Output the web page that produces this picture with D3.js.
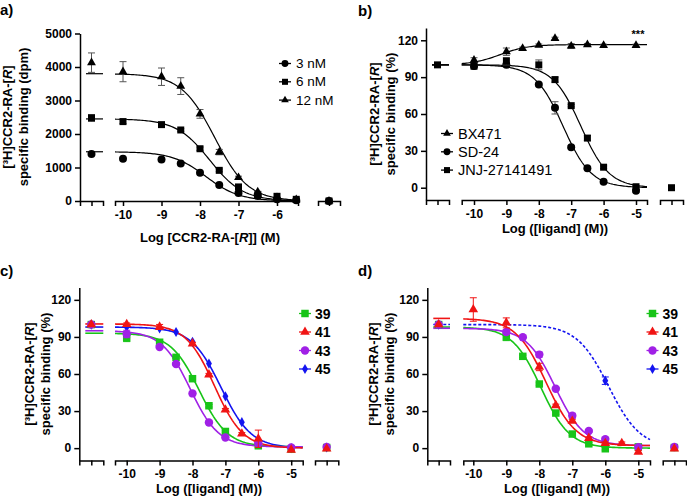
<!DOCTYPE html>
<html>
<head>
<meta charset="utf-8">
<script src="https://cdn.jsdelivr.net/npm/d3@7"></script>
<style>
  body { margin: 0; background: #fff; }
  svg { font-family: "Liberation Sans", Arial, sans-serif; }
  .axis path, .axis line { stroke: #000; stroke-width: 1.5; }
  .axis text { font-size: 12px; font-weight: bold; fill: #000; font-family: "Liberation Sans", Arial, sans-serif; }
</style>
</head>
<body>
<svg width="687" height="497"></svg>
<script>
// **** data ****
// fit params: [top, bottom, logIC50, hill]

// a) saturation, dpm
var logA = [-10, -9, -8.5, -8, -7.5, -7, -6.5, -6, -5.5];
var a3nM = [1260, 1240, 1120, 845, 480, 240, 150, 50, 20];
var a6nM = [2370, 2280, 2120, 1560, 915, 420, 190, 140, 50];
var a12nM = [3860, 3710, 3430, 2600, 1460, 700, 270, 100, 40];
var a6nMErr = [60, 50, 40, 50, 40, 20, 0, 0, 0];
var a12nMErr = [300, 260, 250, 130, 80, 40, 20, 0, 0];
var aCtrl = [1400, 2480, 4130];
var aCtrlErr = [0, 100, 290];
var aFit = [[1470, 0, -7.85, -1], [2450, 0, -7.75, -1], [3800, 0, -7.62, -1]];
var aNames = ['3 nM', '6 nM', '12 nM'];
var aTicksY = [0, 1000, 2000, 3000, 4000, 5000];
var aTicksX = [-10, -9, -8, -7, -6];

// b) reference ligands, %
var logB = [-10, -9, -8.5, -8, -7.5, -7, -6.5, -6, -5];
var bBX471 = [103.8, 110.7, 113.4, 116, 121.5, 115.3, 116.4, 115.8, 115.8];
var bSD24 = [99, 100, null, 84, 65, 33, 15.9, 4.9, -2.5];
var bJNJ = [98.9, 103, null, 100, 88, 66.8, 40.4, 16.7, 0.8];
var bBXErr = [2, 3, 1, 1, 1, 2, 1, 1, 1];
var bSDErr = [1, 1, 0, 1, 5, 1, 1, 1, 1];
var bJNJErr = [1, 3, 0, 4, 2, 1, 2, 1, 1];
var bFit = [[116.5, 100, -9.2, 1], [100, 0, -7.25, -1], [100, 0, -6.7, -1]];
var bNames = ['BX471', 'SD-24', 'JNJ-27141491'];

// c) and d) compounds 39, 41, 43, 45, %
var logCD = [-10, -9, -8.5, -8, -7.5, -7, -6.5, -6, -5.5, -5];
var c39 = [89.2, 85.7, 73.5, 56.2, 34.3, 13.5, null, 1.9, null, -0.8];
var c41 = [100.3, 98.1, null, 84.6, 59.5, 31.1, 11.6, 7.6, null, -1.4];
var c43 = [92.4, 81.9, 68.1, 44.3, 20.8, 8.6, null, 3.8, null, 0.5];
var c45 = [98, 97, 94, 86, 68.4, 41.9, 21, 4, null, 0];
var c41Err = [1, 2, 0, 1, 1, 1, 1, 7, 0, 0];
var c39Err = [3, 1, 1, 1, 1, 1, 0, 1, 0, 0];
var c43Err = [3, 1, 1, 1, 1, 1, 0, 1, 0, 0];
var cFit = [[93, 1, -7.8, -1], [100.5, 0, -7.33, -1], [95, 1, -8.07, -1], [98, 0, -7.13, -0.95]];

var d39 = [null, 90, 74.3, 51.9, 28.4, 11.4, 3.5, -0.5, null, 1];
var d41 = [112.2, 101.4, null, 65.7, 34.6, 22, 8.1, 4, 4, -3];
var d43 = [null, 94, 89.7, 75.7, 48.1, 26.2, 13.8, 7.3, null, 0.8];
var d45 = [null, null, null, null, null, null, null, 54.6, null, null];
var d41Err = [9.5, 4, 0, 3, 1, 1, 1, 1, 1, 1];
var d39Err = [0, 3, 1, 1, 1, 1, 1, 1, 0, 0];
var d43Err = [0, 2, 1, 2, 1, 2, 1, 1, 0, 0];
var d45Err = [0, 0, 0, 0, 0, 0, 0, 3, 0, 0];
var dFit = [[98, 0, -7.95, -1], [105, 2, -7.8, -0.95], [97, 2, -7.52, -1], [100, 0, -5.9, -0.9]];

var cdNames = ['39', '41', '43', '45'];
var cdCtrl = [100, 100, 100, 100];
var cdNsb = [0.5, -0.5, 1, 0.5];
var pctTicksY = [0, 30, 60, 90, 120];
var pctTicksX = [-10, -9, -8, -7, -6, -5];

var svg = d3.select('svg');

function fitY(p, x) {
    return p[1] + (p[0] - p[1]) / (1 + Math.pow(10, (p[2] - x) * p[3]));
}

var sym = {
    circle: d3.symbolCircle, square: d3.symbolSquare,
    triangle: d3.symbolTriangle, diamond: d3.symbolDiamond
};

function drawPanel(o) {
    var g = svg.append('g');
    var y = d3.scaleLinear().domain(o.yDomain).range(o.yRange);
    var x = d3.scaleLinear().domain([-10, -5]).range([o.x10, o.x10 + 5 * o.decade]);
    var axisY = y(o.yDomain[0]);

    // y axis
    g.append('g').attr('class', 'axis')
        .attr('transform', 'translate(' + o.seg1[0] + ',0)')
        .call(d3.axisLeft(y).tickValues(o.yTicks).tickSize(5).tickSizeOuter(0).tickPadding(3)
            .tickFormat(d => String(d)));

    // broken x axis: control | concentrations | nsb
    var s1 = d3.scalePoint().domain(['c']).range(o.seg1).padding(0.5);
    var s3 = d3.scalePoint().domain(['n']).range(o.seg3).padding(0.5);
    var s2 = d3.scaleLinear().domain([x.invert(o.seg2[0]), x.invert(o.seg2[1])]).range(o.seg2);
    [[s1, null], [s2, o.xTicks], [s3, null]].forEach(function(s) {
        var ax = d3.axisBottom(s[0]).tickSize(5).tickSizeOuter(5).tickPadding(4);
        if (s[1]) ax.tickValues(s[1]).tickFormat(d => String(d));
        else ax.tickFormat(() => '');
        g.append('g').attr('class', 'axis')
            .attr('transform', 'translate(0,' + axisY + ')')
            .call(ax);
    });

    var cx = s1('c'), nx = s3('n');
    var order = o.drawOrder || o.series.map((s, i) => i);

    // fitted curves
    order.forEach(function(k) {
        var s = o.series[k];
        var pts = d3.range(0, 121).map(i => o.seg2[0] + (o.seg2[1] - o.seg2[0]) * i / 120);
        g.append('path')
            .datum(pts)
            .attr('fill', 'none')
            .attr('stroke', s.color)
            .attr('stroke-width', o.lw)
            .attr('stroke-dasharray', s.dash || null)
            .attr('d', d3.line().x(d => d).y(d => y(fitY(s.fit, x.invert(d)))));
        // short plateau line at the control
        var plateau = s.fit[3] < 0 ? s.fit[0] : s.fit[1];
        g.append('line')
            .attr('x1', o.seg1[0] + 6).attr('x2', o.seg1[1])
            .attr('y1', y(plateau)).attr('y2', y(plateau))
            .attr('stroke', s.color).attr('stroke-width', o.lw)
            .attr('stroke-dasharray', s.dash || null);
    });

    // error bars and symbols
    order.forEach(function(k) {
        var s = o.series[k];
        var pts = [];
        o.logX.forEach(function(lx, i) {
            if (s.vals[i] != null) pts.push({px: x(lx), v: s.vals[i], e: s.err ? s.err[i] : 0});
        });
        if (s.ctrl != null) pts.push({px: cx, v: s.ctrl, e: s.ctrlErr || 0});
        if (s.nsb != null) pts.push({px: nx, v: s.nsb, e: 0});

        pts.filter(p => p.e > 0).forEach(function(p) {
            var eb = g.append('g').attr('stroke', s.errColor || s.color).attr('stroke-width', 1);
            eb.append('line').attr('x1', p.px).attr('x2', p.px).attr('y1', y(p.v - p.e)).attr('y2', y(p.v + p.e));
            eb.append('line').attr('x1', p.px - 3.5).attr('x2', p.px + 3.5).attr('y1', y(p.v + p.e)).attr('y2', y(p.v + p.e));
            eb.append('line').attr('x1', p.px - 3.5).attr('x2', p.px + 3.5).attr('y1', y(p.v - p.e)).attr('y2', y(p.v - p.e));
        });

        g.selectAll(null).data(pts).enter().append('path')
            .attr('transform', p => 'translate(' + p.px + ',' + y(p.v) + ')')
            .attr('d', d3.symbol().type(sym[s.symbol]).size(s.size))
            .attr('fill', s.color);
    });

    // legend
    o.series.forEach(function(s, i) {
        var ly = o.legend.y + i * o.legend.dy;
        g.append('line')
            .attr('x1', o.legend.x - 6).attr('x2', o.legend.x + 6)
            .attr('y1', ly).attr('y2', ly)
            .attr('stroke', s.color).attr('stroke-width', 1.3);
        g.append('path')
            .attr('transform', 'translate(' + o.legend.x + ',' + ly + ')')
            .attr('d', d3.symbol().type(sym[s.symbol]).size(s.size * o.legend.sym))
            .attr('fill', s.color);
        g.append('text')
            .attr('x', o.legend.x + o.legend.gap).attr('y', ly)
            .attr('dominant-baseline', 'central')
            .style('font-size', o.legend.size + 'px')
            .style('font-weight', o.legend.bold ? 'bold' : 'normal')
            .text(s.name);
    });

    // y axis title (two lines)
    var yt = g.append('text')
        .attr('transform', 'translate(' + o.yTitle.x + ',' + o.yTitle.y + ') rotate(-90)')
        .attr('text-anchor', 'middle')
        .style('font-size', '13px').style('font-weight', 'bold');
    var l1 = yt.append('tspan').attr('x', 0).attr('dy', 0);
    l1.append('tspan').text('[³H]CCR2-RA-[');
    l1.append('tspan').style('font-style', 'italic').text('R');
    l1.append('tspan').text(']');
    yt.append('tspan').attr('x', 0).attr('dy', o.yTitle.gap).text(o.yTitle.line2);

    // x axis title
    var xt = g.append('text')
        .attr('x', o.xTitle.x).attr('y', o.xTitle.y)
        .attr('text-anchor', 'middle').attr('dominant-baseline', 'central')
        .style('font-size', '13px').style('font-weight', 'bold');
    if (o.xTitle.italicR) {
        xt.append('tspan').text('Log [CCR2-RA-[');
        xt.append('tspan').style('font-style', 'italic').text('R');
        xt.append('tspan').text(']] (M)');
    } else {
        xt.text(o.xTitle.text);
    }

    // panel letter
    g.append('text')
        .attr('x', o.tag.x).attr('y', o.tag.y)
        .style('font-size', '15px').style('font-weight', 'bold')
        .text(o.tag.text);
    return {g: g, x: x, y: y};
}

// a)
drawPanel({
    yDomain: [0, 5000], yRange: [201, 33.5], yTicks: aTicksY,
    x10: 123, decade: 38.5, xTicks: aTicksX,
    seg1: [80, 103], seg2: [115, 298], seg3: [318, 340],
    logX: logA, lw: 1.2,
    series: [
        {name: aNames[0], vals: a3nM, ctrl: aCtrl[0], ctrlErr: aCtrlErr[0], nsb: 0, fit: aFit[0], symbol: 'circle', size: 50, color: '#000'},
        {name: aNames[1], vals: a6nM, err: a6nMErr, ctrl: aCtrl[1], ctrlErr: aCtrlErr[1], nsb: 0, fit: aFit[1], symbol: 'square', size: 49, color: '#000', errColor: '#555'},
        {name: aNames[2], vals: a12nM, err: a12nMErr, ctrl: aCtrl[2], ctrlErr: aCtrlErr[2], nsb: 0, fit: aFit[2], symbol: 'triangle', size: 34, color: '#000', errColor: '#555'}
    ],
    legend: {x: 285, y: 63.5, dy: 18.3, gap: 11, size: 13.5, bold: false, sym: 0.75},
    yTitle: {x: 12, y: 117, gap: 16, line2: 'specific binding (dpm)'},
    xTitle: {x: 210, y: 237, italicR: true},
    tag: {x: 0, y: 15, text: 'a)'}
});

// b)
var pb = drawPanel({
    yDomain: [-10, 130], yRange: [200, 28], yTicks: pctTicksY,
    x10: 474, decade: 32.4, xTicks: pctTicksX,
    seg1: [426, 449], seg2: [461.7, 647], seg3: [660, 683],
    logX: logB, lw: 1.2,
    series: [
        {name: bNames[0], vals: bBX471, err: bBXErr, fit: bFit[0], symbol: 'triangle', size: 34, color: '#000', errColor: '#555'},
        {name: bNames[1], vals: bSD24, err: bSDErr, fit: bFit[1], symbol: 'circle', size: 50, color: '#000', errColor: '#555'},
        {name: bNames[2], vals: bJNJ, err: bJNJErr, ctrl: 100, nsb: 0, fit: bFit[2], symbol: 'square', size: 49, color: '#000', errColor: '#555'}
    ],
    legend: {x: 447, y: 133.5, dy: 18.3, gap: 11, size: 14.5, bold: false, sym: 0.75},
    yTitle: {x: 379, y: 114, gap: 16, line2: 'specific binding (%)'},
    xTitle: {x: 555, y: 228, text: 'Log ([ligand] (M))'},
    tag: {x: 358, y: 16, text: 'b)'}
});
pb.g.append('text').attr('x', 638).attr('y', 38).attr('text-anchor', 'middle')
    .style('font-size', '11px').style('font-weight', 'bold').text('***');

var cdColors = ['#18c418', '#f01414', '#a020e6', '#1414f0'];
var cdSymbols = ['square', 'triangle', 'circle', 'diamond'];
var cdSizes = [56, 40, 56, 30];

// c)
drawPanel({
    yDomain: [-10, 130], yRange: [460.5, 287.5], yTicks: pctTicksY,
    x10: 126.7, decade: 32.9, xTicks: pctTicksX,
    seg1: [79.3, 103.3], seg2: [115, 302.7], seg3: [315, 338.3],
    logX: logCD, lw: 1.6, drawOrder: [3, 0, 2, 1],
    series: [
        {name: cdNames[0], vals: c39, err: c39Err, ctrl: cdCtrl[0], nsb: cdNsb[0], fit: cFit[0], symbol: cdSymbols[0], size: cdSizes[0], color: cdColors[0]},
        {name: cdNames[1], vals: c41, err: c41Err, ctrl: cdCtrl[1], nsb: cdNsb[1], fit: cFit[1], symbol: cdSymbols[1], size: cdSizes[1], color: cdColors[1]},
        {name: cdNames[2], vals: c43, err: c43Err, ctrl: cdCtrl[2], nsb: cdNsb[2], fit: cFit[2], symbol: cdSymbols[2], size: cdSizes[2], color: cdColors[2]},
        {name: cdNames[3], vals: c45, ctrl: cdCtrl[3], nsb: cdNsb[3], fit: cFit[3], symbol: cdSymbols[3], size: cdSizes[3], color: cdColors[3]}
    ],
    legend: {x: 305, y: 313.5, dy: 18.5, gap: 10, size: 14, bold: true, sym: 1},
    yTitle: {x: 34, y: 374, gap: 15.5, line2: 'specific binding (%)'},
    xTitle: {x: 209, y: 488, text: 'Log ([ligand] (M))'},
    tag: {x: 0, y: 276, text: 'c)'}
});

// d)
drawPanel({
    yDomain: [-10, 130], yRange: [460.5, 287.5], yTicks: pctTicksY,
    x10: 473.3, decade: 33, xTicks: pctTicksX,
    seg1: [427.3, 450], seg2: [463.3, 650], seg3: [662.7, 686],
    logX: logCD, lw: 1.6, drawOrder: [3, 0, 2, 1],
    series: [
        {name: cdNames[0], vals: d39, err: d39Err, ctrl: cdCtrl[0], nsb: cdNsb[0], fit: dFit[0], symbol: cdSymbols[0], size: cdSizes[0], color: cdColors[0]},
        {name: cdNames[1], vals: d41, err: d41Err, ctrl: cdCtrl[1], nsb: cdNsb[1], fit: dFit[1], symbol: cdSymbols[1], size: cdSizes[1], color: cdColors[1]},
        {name: cdNames[2], vals: d43, err: d43Err, ctrl: cdCtrl[2], nsb: cdNsb[2], fit: dFit[2], symbol: cdSymbols[2], size: cdSizes[2], color: cdColors[2]},
        {name: cdNames[3], vals: d45, err: d45Err, ctrl: cdCtrl[3], fit: dFit[3], symbol: cdSymbols[3], size: cdSizes[3], color: cdColors[3], dash: '3,2'}
    ],
    legend: {x: 652.5, y: 313.5, dy: 18.5, gap: 10, size: 14, bold: true, sym: 1},
    yTitle: {x: 378, y: 374, gap: 15.5, line2: 'specific binding (%)'},
    xTitle: {x: 557, y: 488, text: 'Log ([ligand] (M))'},
    tag: {x: 358, y: 276, text: 'd)'}
});
</script>
</body>
</html>
